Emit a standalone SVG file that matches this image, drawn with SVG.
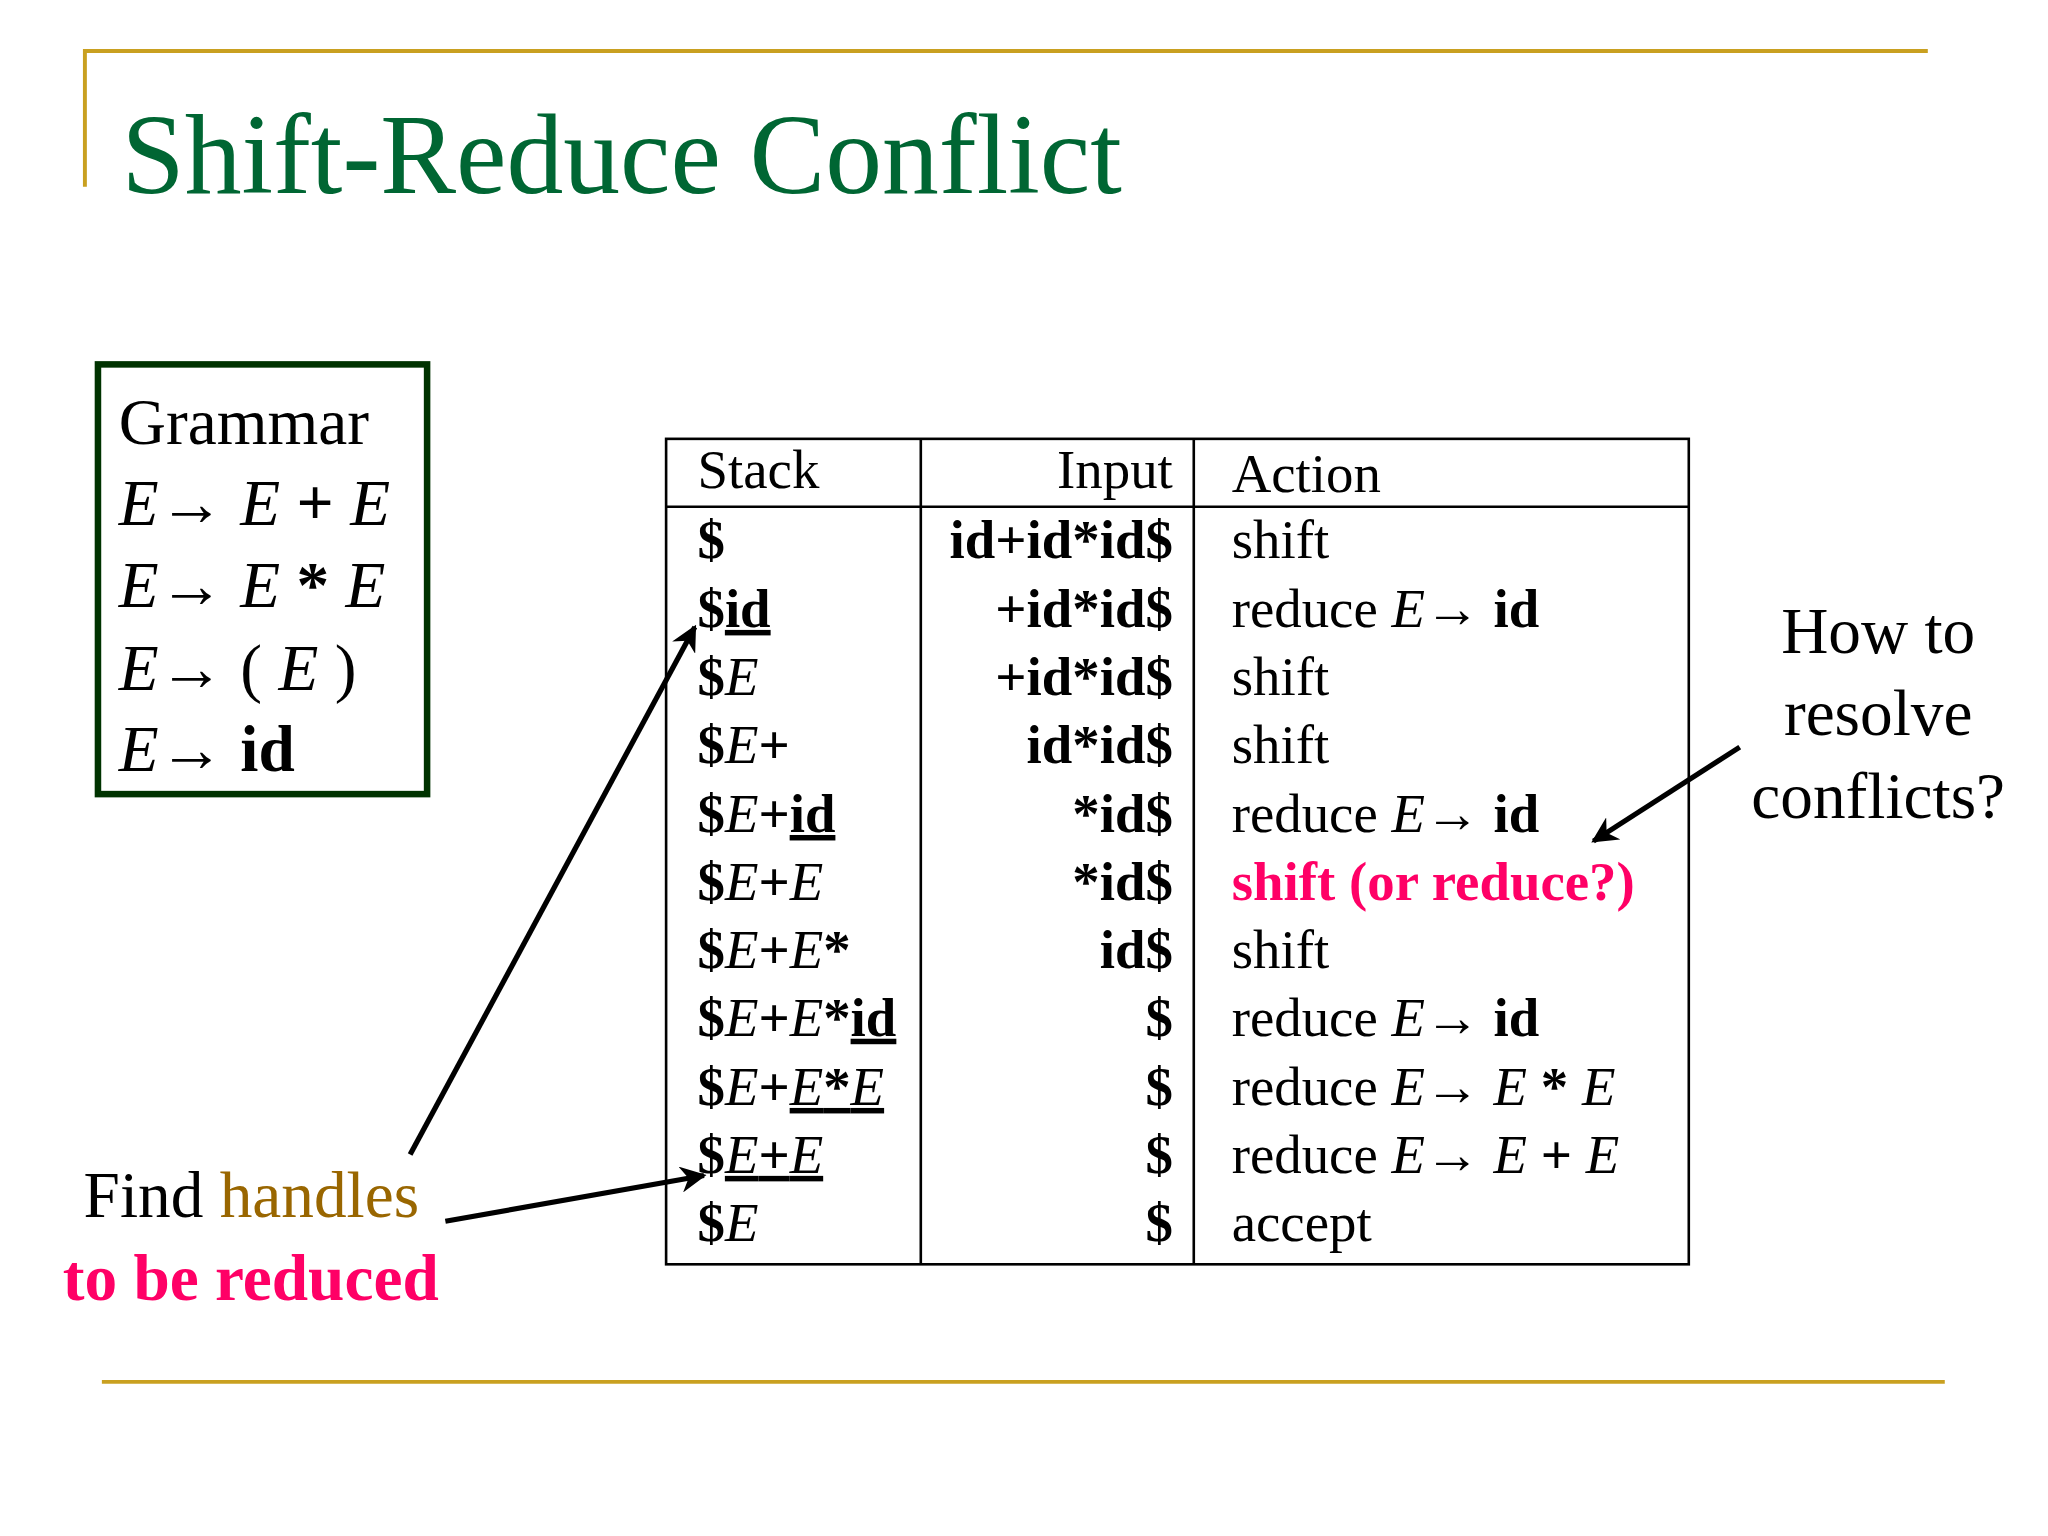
<svg xmlns="http://www.w3.org/2000/svg" width="2048" height="1536" viewBox="0 0 2048 1536">
<style>
text{font-family:"Liberation Serif","Times New Roman",serif;fill:#000}
.t{font-size:42px}
.b{font-weight:bold}
.i{font-style:italic}
.u{text-decoration:underline}
.r{text-anchor:end}
.g{font-size:50px}
.ln{stroke:#000;stroke-width:2;fill:none}
.ar{stroke:#000;stroke-width:4;fill:none;marker-end:url(#ah)}
</style>
<defs><marker id="ah" viewBox="0 0 10 10" refX="9" refY="5" markerWidth="5" markerHeight="5" orient="auto"><path d="M0,0 L10,5 L0,10 L3,5 z" fill="#000"/></marker></defs>
<rect width="2048" height="1536" fill="#fff"/>
<g transform="scale(1.3061)">
<g id="frame">
<path d="M65,143 V39 H1476" stroke="#C9A020" stroke-width="3" fill="none"/>
<line x1="78" y1="1058" x2="1489" y2="1058" stroke="#C9A020" stroke-width="3"/>
<text x="93" y="148" style="font-size:87px;fill:#006633">Shift-Reduce Conflict</text>
</g>
<g id="grammar">
<rect x="75" y="279" width="252" height="329" fill="none" stroke="#003300" stroke-width="5"/>
<text class="g" x="91" y="340">Grammar</text>
<text class="g" x="91" y="402"><tspan class="i">E</tspan>→ <tspan class="i">E</tspan> <tspan class="b">+</tspan> <tspan class="i">E</tspan></text>
<text class="g" x="91" y="465"><tspan class="i">E</tspan>→ <tspan class="i">E</tspan> <tspan class="b">*</tspan> <tspan class="i">E</tspan></text>
<text class="g" x="91" y="528"><tspan class="i">E</tspan>→ ( <tspan class="i">E</tspan> )</text>
<text class="g" x="91" y="590"><tspan class="i">E</tspan>→ <tspan class="b">id</tspan></text>
</g>
<g id="table">
<rect x="510" y="336" width="783" height="632" class="ln"/>
<line x1="510" y1="388" x2="1293" y2="388" class="ln"/>
<line x1="705" y1="336" x2="705" y2="968" class="ln"/>
<line x1="914" y1="336" x2="914" y2="968" class="ln"/>
<text class="t" x="534" y="374">Stack</text>
<text class="t r" x="898" y="374">Input</text>
<text class="t" x="943" y="377">Action</text>
<g>
<text class="t b" x="534" y="427">$</text>
<text class="t b" x="534" y="480">$<tspan class="u">id</tspan></text>
<text class="t b" x="534" y="532">$<tspan class="i" font-weight="normal">E</tspan></text>
<text class="t b" x="534" y="584">$<tspan class="i" font-weight="normal">E</tspan>+</text>
<text class="t b" x="534" y="637">$<tspan class="i" font-weight="normal">E</tspan>+<tspan class="u">id</tspan></text>
<text class="t b" x="534" y="689">$<tspan class="i" font-weight="normal">E</tspan>+<tspan class="i" font-weight="normal">E</tspan></text>
<text class="t b" x="534" y="741">$<tspan class="i" font-weight="normal">E</tspan>+<tspan class="i" font-weight="normal">E</tspan>*</text>
<text class="t b" x="534" y="793">$<tspan class="i" font-weight="normal">E</tspan>+<tspan class="i" font-weight="normal">E</tspan>*<tspan class="u">id</tspan></text>
<text class="t b" x="534" y="846">$<tspan class="i" font-weight="normal">E</tspan>+<tspan class="u"><tspan class="i" font-weight="normal">E</tspan>*<tspan class="i" font-weight="normal">E</tspan></tspan></text>
<text class="t b" x="534" y="898">$<tspan class="u"><tspan class="i" font-weight="normal">E</tspan>+<tspan class="i" font-weight="normal">E</tspan></tspan></text>
<text class="t b" x="534" y="950">$<tspan class="i" font-weight="normal">E</tspan></text>
</g>
<g>
<text class="t b r" x="898" y="427">id+id*id$</text>
<text class="t b r" x="898" y="480">+id*id$</text>
<text class="t b r" x="898" y="532">+id*id$</text>
<text class="t b r" x="898" y="584">id*id$</text>
<text class="t b r" x="898" y="637">*id$</text>
<text class="t b r" x="898" y="689">*id$</text>
<text class="t b r" x="898" y="741">id$</text>
<text class="t b r" x="898" y="793">$</text>
<text class="t b r" x="898" y="846">$</text>
<text class="t b r" x="898" y="898">$</text>
<text class="t b r" x="898" y="950">$</text>
</g>
<g>
<text class="t" x="943" y="427">shift</text>
<text class="t" x="943" y="480">reduce <tspan class="i">E</tspan>→ <tspan class="b">id</tspan></text>
<text class="t" x="943" y="532">shift</text>
<text class="t" x="943" y="584">shift</text>
<text class="t" x="943" y="637">reduce <tspan class="i">E</tspan>→ <tspan class="b">id</tspan></text>
<text class="t b" x="943" y="689" style="fill:#FF0066">shift (or reduce?)</text>
<text class="t" x="943" y="741">shift</text>
<text class="t" x="943" y="793">reduce <tspan class="i">E</tspan>→ <tspan class="b">id</tspan></text>
<text class="t" x="943" y="846">reduce <tspan class="i">E</tspan>→ <tspan class="i">E</tspan> <tspan class="b">*</tspan> <tspan class="i">E</tspan></text>
<text class="t" x="943" y="898">reduce <tspan class="i">E</tspan>→ <tspan class="i">E</tspan> <tspan class="b">+</tspan> <tspan class="i">E</tspan></text>
<text class="t" x="943" y="950">accept</text>
</g>
</g>
<g id="note-right">
<text class="g" x="1438" y="500" text-anchor="middle">How to</text>
<text class="g" x="1438" y="563" text-anchor="middle">resolve</text>
<text class="g" x="1438" y="626" text-anchor="middle">conflicts?</text>
</g>
<g id="note-left">
<text class="g" x="64" y="932">Find <tspan style="fill:#996600">handles</tspan></text>
<text class="g b" x="48" y="995" style="fill:#FF0066">to be reduced</text>
</g>
<g id="connectors">
<line class="ar" x1="1332" y1="572" x2="1220" y2="644"/>
<line class="ar" x1="314" y1="884" x2="532" y2="480"/>
<line class="ar" x1="341" y1="935" x2="539" y2="900"/>
</g>
</g>
</svg>
